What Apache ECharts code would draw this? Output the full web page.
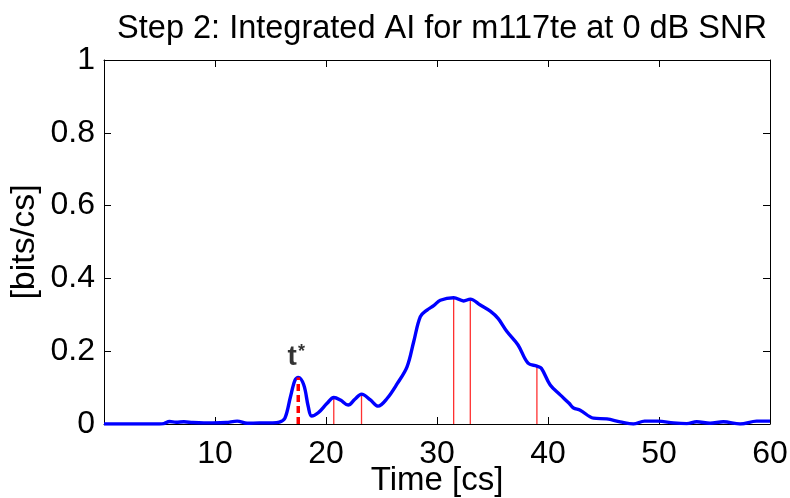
<!DOCTYPE html>
<html>
<head>
<meta charset="utf-8">
<script src="https://cdn.jsdelivr.net/npm/echarts@6/dist/echarts.min.js"></script>
<style>html,body{margin:0;padding:0;background:#fff}#c{width:790px;height:498px}</style>
</head>
<body>
<div id="c"></div>
<script>
// ---- data ----
var timeCs = [0, 5.0, 5.4, 5.9, 6.5, 7.2, 8.0, 9.0, 9.8, 11.0, 12.0, 12.9, 14.0, 15.2, 15.8, 16.3, 16.8, 17.2, 17.5, 18.0, 18.4, 18.7, 19.3, 20.1, 20.7, 21.3, 22.0, 22.6, 23.2, 24.0, 24.7, 25.5, 26.4, 27.3, 27.9, 28.5, 29.1, 29.7, 30.3, 31.5, 32.4, 33.0, 33.9, 34.8, 35.5, 36.3, 37.3, 38.2, 39.0, 39.4, 40.2, 41.1, 41.9, 42.3, 42.9, 44.1, 45.3, 46.5, 47.7, 48.7, 49.9, 51.3, 52.5, 53.4, 54.6, 55.8, 57.3, 58.8, 60];
var aiValues = [0, 0, 0.001, 0.007, 0.005, 0.006, 0.004, 0.003, 0.003, 0.004, 0.008, 0.002, 0.003, 0.003, 0.005, 0.016, 0.075, 0.12, 0.128, 0.107, 0.048, 0.022, 0.031, 0.057, 0.073, 0.066, 0.052, 0.068, 0.082, 0.066, 0.049, 0.07, 0.11, 0.157, 0.226, 0.295, 0.313, 0.325, 0.34, 0.347, 0.338, 0.343, 0.327, 0.31, 0.29, 0.254, 0.217, 0.167, 0.159, 0.153, 0.107, 0.08, 0.057, 0.044, 0.038, 0.016, 0.014, 0.006, 0, 0.008, 0.008, 0.003, 0.001, 0.006, 0.002, 0.006, 0, 0.008, 0.008];
var markTimes = [20.7, 23.2, 31.5, 33.0, 39.0];
var markValues = [0.073, 0.082, 0.347, 0.343, 0.159];
var tStarTime = 17.5;
var tStarValue = 0.128;
var xTicks = [10, 20, 30, 40, 50, 60];
var yTicks = [0, 0.2, 0.4, 0.6, 0.8, 1];
var titleText = 'Step 2: Integrated AI for m117te at 0 dB SNR';
var xName = 'Time [cs]';
var yName = '[bits/cs]';

var FONT = 'Liberation Sans';
var curve = timeCs.map(function (t, i) { return [t, aiValues[i]]; });

var series = [{
  type: 'line',
  data: curve,
  smooth: 0.35,
  showSymbol: false,
  lineStyle: { color: '#0000ff', width: 3.4 },
  z: 5,
  silent: true
}];
markTimes.forEach(function (t, i) {
  series.push({
    type: 'line',
    data: [[t, 0], [t, markValues[i]]],
    showSymbol: false,
    lineStyle: { color: '#ff3030', width: 1.3 },
    z: 4,
    silent: true
  });
});
series.push({
  type: 'line',
  data: [[tStarTime, 0], [tStarTime, tStarValue]],
  showSymbol: false,
  lineStyle: { color: '#ff0000', width: 3.5, type: [7, 4] },
  z: 6,
  silent: true
});
series.push({
  type: 'scatter',
  data: [[tStarTime, tStarValue]],
  symbolSize: 0,
  silent: true,
  z: 7,
  label: {
    show: true,
    position: 'top',
    distance: 6,
    offset: [-2, 0],
    formatter: '{t|t}{s|*}',
    rich: {
      t: { fontFamily: FONT, fontSize: 28, fontWeight: 'bold', color: '#000' },
      s: { fontFamily: FONT, fontSize: 18, fontWeight: 'bold', color: '#000', verticalAlign: 'top', padding: [0, 0, 0, 1] }
    }
  }
});

function axisCommon() {
  return {
    axisLine: { show: true, onZero: false, lineStyle: { color: '#000', width: 1 } },
    axisTick: { show: true, inside: true, length: 7, lineStyle: { color: '#000' } },
    splitLine: { show: false }
  };
}

var chart = echarts.init(document.getElementById('c'), null, { renderer: 'canvas' });
chart.setOption({
  animation: false,
  backgroundColor: '#fff',
  title: {
    text: titleText,
    left: 437,
    top: 8,
    textAlign: 'center',
    textStyle: { fontFamily: FONT, fontSize: 32.5, fontWeight: 'normal', color: '#000' }
  },
  grid: { left: 104, right: 20, top: 60, bottom: 74, containLabel: false, outerBoundsMode: 'none' },
  xAxis: [
    Object.assign({
      type: 'value', min: 0, max: 60, interval: 10, position: 'bottom',
      name: xName, nameLocation: 'middle', nameGap: 40, nameMoveOverlap: false,
      nameTextStyle: { fontFamily: FONT, fontSize: 33, color: '#000' },
      axisLabel: {
        fontFamily: FONT, fontSize: 32, color: '#000', margin: 14,
        formatter: function (v) { return xTicks.indexOf(v) >= 0 ? String(v) : ''; }
      }
    }, axisCommon()),
    Object.assign({
      type: 'value', min: 0, max: 60, interval: 10, position: 'top',
      axisLabel: { show: false }
    }, axisCommon())
  ],
  yAxis: [
    Object.assign({
      type: 'value', min: 0, max: 1, interval: 0.2, position: 'left',
      name: yName, nameLocation: 'middle', nameGap: 62, nameRotate: 90, nameMoveOverlap: false,
      nameTextStyle: { fontFamily: FONT, fontSize: 34, color: '#000' },
      axisLabel: {
        fontFamily: FONT, fontSize: 32, color: '#000', margin: 9,
        formatter: function (v) {
          for (var i = 0; i < yTicks.length; i++) { if (Math.abs(yTicks[i] - v) < 1e-9) return String(yTicks[i]); }
          return '';
        }
      }
    }, axisCommon()),
    Object.assign({
      type: 'value', min: 0, max: 1, interval: 0.2, position: 'right',
      axisLabel: { show: false }
    }, axisCommon())
  ],
  series: series
});
</script>
</body>
</html>
